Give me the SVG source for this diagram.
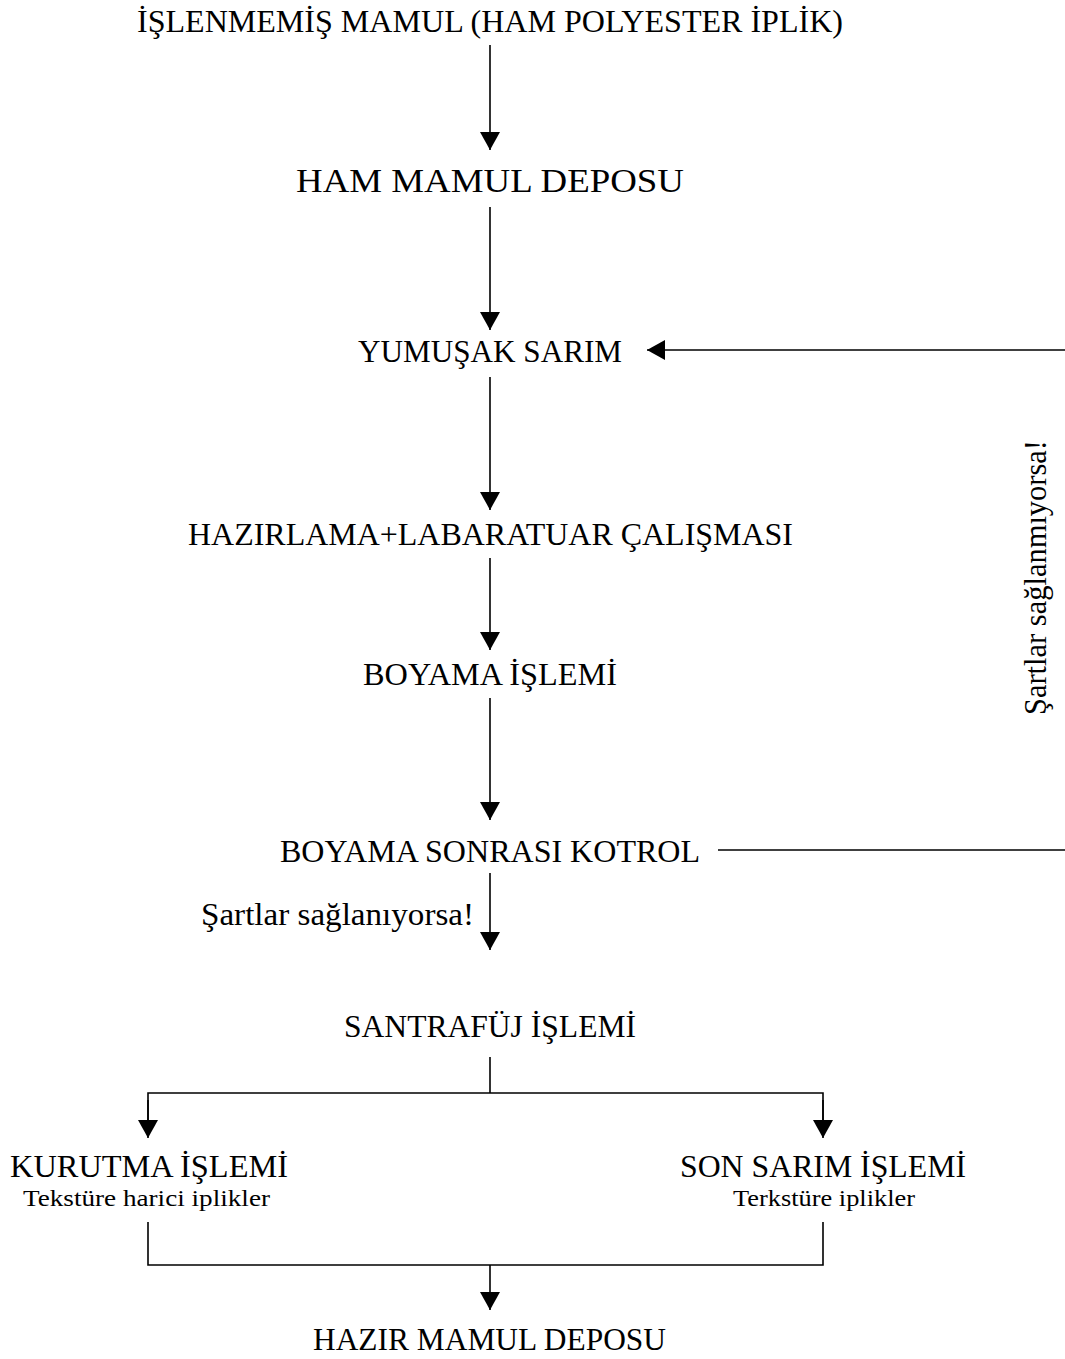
<svg xmlns="http://www.w3.org/2000/svg" width="1065" height="1359" viewBox="0 0 1065 1359">
<style>
text{font-family:"Liberation Serif","Times New Roman",serif;fill:#000;text-anchor:middle}
.m{font-size:32px}
.t{font-size:32px}
.b{font-size:34px}
.s{font-size:24px}
.c{stroke:#000;stroke-width:1.6;fill:none}
</style>
<defs>
<marker id="ah" markerUnits="userSpaceOnUse" markerWidth="20" markerHeight="20" viewBox="0 0 20 20" refX="18" refY="10" orient="auto">
<path d="M0,0 L18,10 L0,20 Z" fill="#000"/>
</marker>
</defs>
<rect width="1065" height="1359" fill="#fff"/>
<g id="connectors">
<line class="c" x1="490" y1="45" x2="490" y2="150" marker-end="url(#ah)"/>
<line class="c" x1="490" y1="207" x2="490" y2="330" marker-end="url(#ah)"/>
<line class="c" x1="1065" y1="350" x2="647" y2="350" marker-end="url(#ah)"/>
<line class="c" x1="490" y1="377" x2="490" y2="510" marker-end="url(#ah)"/>
<line class="c" x1="490" y1="558" x2="490" y2="650" marker-end="url(#ah)"/>
<line class="c" x1="490" y1="698" x2="490" y2="820" marker-end="url(#ah)"/>
<line class="c" x1="718" y1="850" x2="1065" y2="850"/>
<line class="c" x1="490" y1="873" x2="490" y2="950" marker-end="url(#ah)"/>
<polyline class="c" points="490,1057 490,1093"/>
<polyline class="c" points="148,1120 148,1093 823,1093 823,1120"/>
<line class="c" x1="148" y1="1100" x2="148" y2="1138" marker-end="url(#ah)"/>
<line class="c" x1="823" y1="1100" x2="823" y2="1138" marker-end="url(#ah)"/>
<polyline class="c" points="148,1222 148,1265 823,1265 823,1222"/>
<line class="c" x1="490" y1="1265" x2="490" y2="1310" marker-end="url(#ah)"/>
</g>
<g id="n-islenmemis"><text class="t" x="490" y="32" textLength="706" lengthAdjust="spacingAndGlyphs">İŞLENMEMİŞ MAMUL (HAM POLYESTER İPLİK)</text></g>
<g id="n-hammamul"><text class="b" x="490" y="192" textLength="388" lengthAdjust="spacingAndGlyphs">HAM MAMUL DEPOSU</text></g>
<g id="n-yumusak"><text class="m" x="490" y="362" textLength="264" lengthAdjust="spacingAndGlyphs">YUMUŞAK SARIM</text></g>
<g id="n-hazirlama"><text class="m" x="490.5" y="545" textLength="605" lengthAdjust="spacingAndGlyphs">HAZIRLAMA+LABARATUAR ÇALIŞMASI</text></g>
<g id="n-boyama"><text class="m" x="490" y="685" textLength="254" lengthAdjust="spacingAndGlyphs">BOYAMA İŞLEMİ</text></g>
<g id="n-kontrol"><text class="m" x="490" y="862" textLength="420" lengthAdjust="spacingAndGlyphs">BOYAMA SONRASI KOTROL</text></g>
<g id="l-saglanmiyor"><text class="m" transform="translate(1046,577.5) rotate(-90)" x="0" y="0" textLength="275" lengthAdjust="spacingAndGlyphs">Şartlar sağlanmıyorsa!</text></g>
<g id="l-saglaniyor"><text class="m" x="337.5" y="925" textLength="273" lengthAdjust="spacingAndGlyphs">Şartlar sağlanıyorsa!</text></g>
<g id="n-santrafuj"><text class="m" x="490" y="1037" textLength="292" lengthAdjust="spacingAndGlyphs">SANTRAFÜJ İŞLEMİ</text></g>
<g id="n-kurutma">
<text class="m" x="149" y="1177" textLength="278" lengthAdjust="spacingAndGlyphs">KURUTMA İŞLEMİ</text>
<text class="s" x="146.5" y="1206" textLength="247" lengthAdjust="spacingAndGlyphs">Tekstüre harici iplikler</text>
</g>
<g id="n-sonsarim">
<text class="m" x="823" y="1177" textLength="286" lengthAdjust="spacingAndGlyphs">SON SARIM İŞLEMİ</text>
<text class="s" x="824" y="1206" textLength="182" lengthAdjust="spacingAndGlyphs">Terkstüre iplikler</text>
</g>
<g id="n-hazirmamul"><text class="m" x="489.5" y="1350" textLength="353" lengthAdjust="spacingAndGlyphs">HAZIR MAMUL DEPOSU</text></g>
</svg>
